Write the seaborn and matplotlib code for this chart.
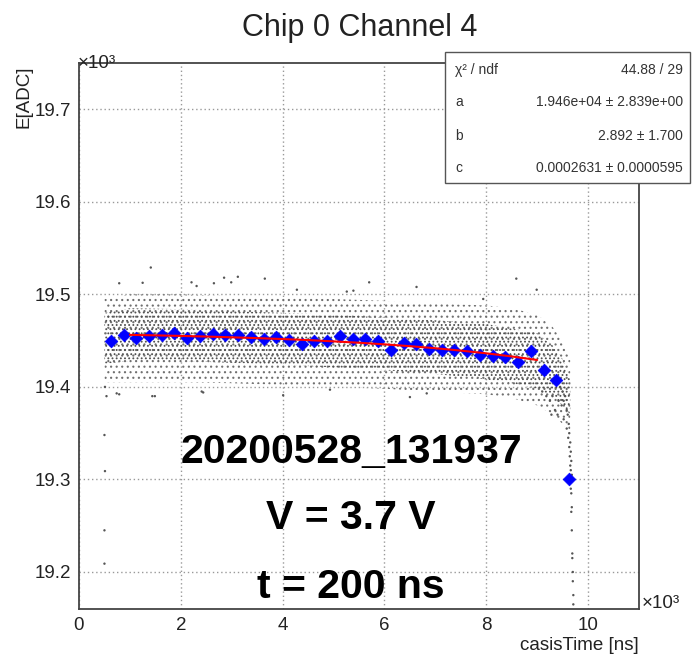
import matplotlib
matplotlib.use('Agg')
import numpy as np
import pandas as pd
import matplotlib.pyplot as plt
import seaborn as sns
from matplotlib.patches import Rectangle
from matplotlib.ticker import MultipleLocator

# profile: bin centres [x10^3 ns] and mean energy [x10^3 ADC]
bin_x = [0.625, 0.875, 1.125, 1.375, 1.625, 1.875, 2.125, 2.375, 2.625, 2.875,
         3.125, 3.375, 3.625, 3.875, 4.125, 4.375, 4.625, 4.875, 5.125, 5.375,
         5.625, 5.875, 6.125, 6.375, 6.625, 6.875, 7.125, 7.375, 7.625, 7.875,
         8.125, 8.375, 8.625, 8.875, 9.125, 9.375, 9.625]
bin_mean = [19.4496, 19.4564, 19.4531, 19.4546, 19.4560, 19.4582, 19.4528, 19.4553,
            19.4575, 19.4557, 19.4564, 19.4536, 19.4514, 19.4539, 19.4506, 19.4463,
            19.4499, 19.4496, 19.4550, 19.4521, 19.4521, 19.4496, 19.4398, 19.4477,
            19.4460, 19.4413, 19.4398, 19.4398, 19.4388, 19.4341, 19.4337, 19.4320,
            19.4269, 19.4384, 19.4186, 19.4071, 19.3000]

# fitted curve
fit_x = [1.0, 1.5, 2.0, 2.5, 3.0, 3.5, 4.0, 4.5, 5.0, 5.5, 6.0, 6.5, 7.0, 7.5, 8.0, 8.5, 9.0]
fit_y = [19.4562, 19.4557, 19.4551, 19.4544, 19.4536, 19.4527, 19.4517, 19.4506, 19.4492,
         19.4477, 19.4460, 19.4440, 19.4418, 19.4392, 19.4363, 19.4329, 19.4291]

# extent of the raw-event cloud (outer = sparse, inner = dense core)
band_x = [0.5, 1.0, 2.0, 3.0, 4.0, 5.0, 6.0, 7.0, 8.0, 8.5, 9.0, 9.3, 9.5, 9.65]
outer_hi = [19.495, 19.500, 19.500, 19.498, 19.497, 19.495, 19.493, 19.490, 19.488,
            19.485, 19.478, 19.465, 19.450, 19.430]
outer_lo = [19.405, 19.405, 19.405, 19.404, 19.402, 19.400, 19.398, 19.395, 19.392,
            19.388, 19.380, 19.370, 19.360, 19.350]
inner_hi = [19.480, 19.485, 19.484, 19.482, 19.480, 19.478, 19.475, 19.472, 19.468,
            19.463, 19.458, 19.445, 19.430, 19.410]
inner_lo = [19.425, 19.428, 19.428, 19.426, 19.424, 19.421, 19.418, 19.414, 19.408,
            19.404, 19.398, 19.390, 19.380, 19.370]

# isolated events outside the cloud
out_x = [0.79, 1.41, 1.25, 2.21, 2.31, 2.65, 2.85, 2.99, 3.12, 0.51, 0.54, 0.79, 1.44, 2.41,
         3.65, 5.70, 4.28, 5.26, 5.39, 6.63, 4.01, 4.93, 6.50, 6.83, 8.59, 8.99, 7.94,
         0.50, 0.51, 0.50, 0.50, 0.74, 1.49, 2.44,
         9.10, 9.18, 9.25, 9.30, 9.35, 9.40, 9.42, 9.52, 9.28,
         9.45, 9.50, 9.52, 9.55, 9.48, 9.58, 9.60, 9.62, 9.58, 9.63, 9.61, 9.65, 9.63,
         9.66, 9.64, 9.67, 9.65, 9.66, 9.68, 9.66, 9.67, 9.68, 9.67, 9.68, 9.69, 9.69,
         9.70, 9.70, 9.71, 9.71]
out_y = [19.512, 19.529, 19.5125, 19.513, 19.509, 19.512, 19.518, 19.513, 19.519, 19.400,
         19.390, 19.392, 19.390, 19.395,
         19.517, 19.513, 19.505, 19.503, 19.504, 19.508, 19.391, 19.397, 19.389, 19.393,
         19.517, 19.505, 19.495,
         19.348, 19.309, 19.245, 19.209, 19.393, 19.390, 19.394,
         19.395, 19.390, 19.385, 19.390, 19.375, 19.370, 19.385, 19.365, 19.370,
         19.400, 19.395, 19.385, 19.390, 19.380, 19.375, 19.370, 19.360, 19.355, 19.350,
         19.345, 19.340, 19.335, 19.330, 19.325, 19.320, 19.315, 19.310, 19.305, 19.290,
         19.285, 19.270, 19.265, 19.245, 19.220, 19.215, 19.200, 19.190, 19.175, 19.165]

x_ticks = [0, 2, 4, 6, 8, 10]
y_ticks = [19.2, 19.3, 19.4, 19.5, 19.6, 19.7]

stats_rows = [('χ² / ndf', '44.88 / 29'),
              ('a', '1.946e+04 ± 2.839e+00'),
              ('b', '2.892 ± 1.700'),
              ('c', '0.0002631 ± 0.0000595')]
notes = ['20200528_131937', 'V = 3.7 V', 't = 200 ns']

sns.set_style('white')
plt.rcParams['font.family'] = ['Liberation Sans', 'DejaVu Sans']
plt.rcParams['hatch.linewidth'] = 0.8

prof = pd.DataFrame({'x': bin_x, 'y': bin_mean})
fit = pd.DataFrame({'x': fit_x, 'y': fit_y})
outl = pd.DataFrame({'x': out_x, 'y': out_y})

fig = plt.figure(figsize=(6.94, 6.60), dpi=100)
ax = fig.add_axes([79 / 694, 1 - 609 / 660, 560 / 694, 546 / 660])

# event cloud as stippled bands
ax.fill_between(band_x, outer_lo, outer_hi, facecolor='none', edgecolor='#707070',
                linewidth=0, hatch='...', zorder=1)
ax.fill_between(band_x, inner_lo, inner_hi, facecolor='none', edgecolor='#505050',
                linewidth=0, hatch='....', zorder=1)
sns.scatterplot(data=outl, x='x', y='y', ax=ax, s=3, color='#555555',
                edgecolor='none', zorder=2, legend=False)

sns.scatterplot(data=prof, x='x', y='y', ax=ax, marker='D', s=42, color='#0000ff',
                edgecolor='#0000ff', linewidth=0.5, zorder=3, legend=False)
sns.lineplot(data=fit, x='x', y='y', ax=ax, color='#ff0000', linewidth=1.5,
             zorder=4, legend=False)

ax.set_xlim(0, 11)
ax.set_ylim(19.16, 19.75)
ax.set_xticks(x_ticks)
ax.set_yticks(y_ticks)
ax.set_xticklabels([str(t) for t in x_ticks])
ax.set_yticklabels([f'{t:.1f}' for t in y_ticks])
ax.xaxis.set_minor_locator(MultipleLocator(0.5))
ax.yaxis.set_minor_locator(MultipleLocator(0.02))
ax.tick_params(which='major', direction='in', length=10, width=1.0, color='#444444',
               labelsize=13.5, labelcolor='#222222', pad=6)
ax.tick_params(which='minor', direction='in', length=5, width=1.0, color='#444444')
ax.tick_params(top=False, right=False, which='both')
ax.grid(True, which='major', linestyle=(0, (1, 2)), color='#999999', linewidth=1.0)
ax.set_xlabel('')
ax.set_ylabel('')
for sp in ax.spines.values():
    sp.set_color('#444444')
    sp.set_linewidth(1.3)

fig.text(360 / 694, 1 - 28 / 660, 'Chip 0 Channel 4', ha='center', va='center',
         fontsize=22, color='#222222')
fig.text(24 / 694, 1 - 66 / 660, 'E[ADC]', rotation=90, ha='center', va='top',
         fontsize=13.5, color='#222222')
fig.text(639 / 694, 1 - 646 / 660, 'casisTime [ns]', ha='right', va='center',
         fontsize=13.5, color='#222222')
fig.text(78 / 694, 1 - 63 / 660, '×10³', ha='left', va='center', fontsize=13.5,
         color='#222222')
fig.text(642 / 694, 1 - 603 / 660, '×10³', ha='left', va='center', fontsize=13.5,
         color='#222222')

for txt, yc in zip(notes, [452, 518, 587]):
    fig.text(351 / 694, 1 - yc / 660, txt, ha='center', va='center', fontsize=29.5,
             fontweight='bold', color='black')

# stats box
fig.patches.append(Rectangle((445 / 694, 1 - 183 / 660), 245 / 694, 131 / 660,
                             transform=fig.transFigure, facecolor='white',
                             edgecolor='#555555', linewidth=1.0, zorder=5))
for (lab, val), yc in zip(stats_rows, [70, 102, 136, 168]):
    fig.text(455 / 694, 1 - yc / 660, lab, ha='left', va='center', fontsize=10,
             color='#333333', zorder=6)
    fig.text(683 / 694, 1 - yc / 660, val, ha='right', va='center', fontsize=10,
             color='#333333', zorder=6)

fig.savefig('out.png', dpi=100)
